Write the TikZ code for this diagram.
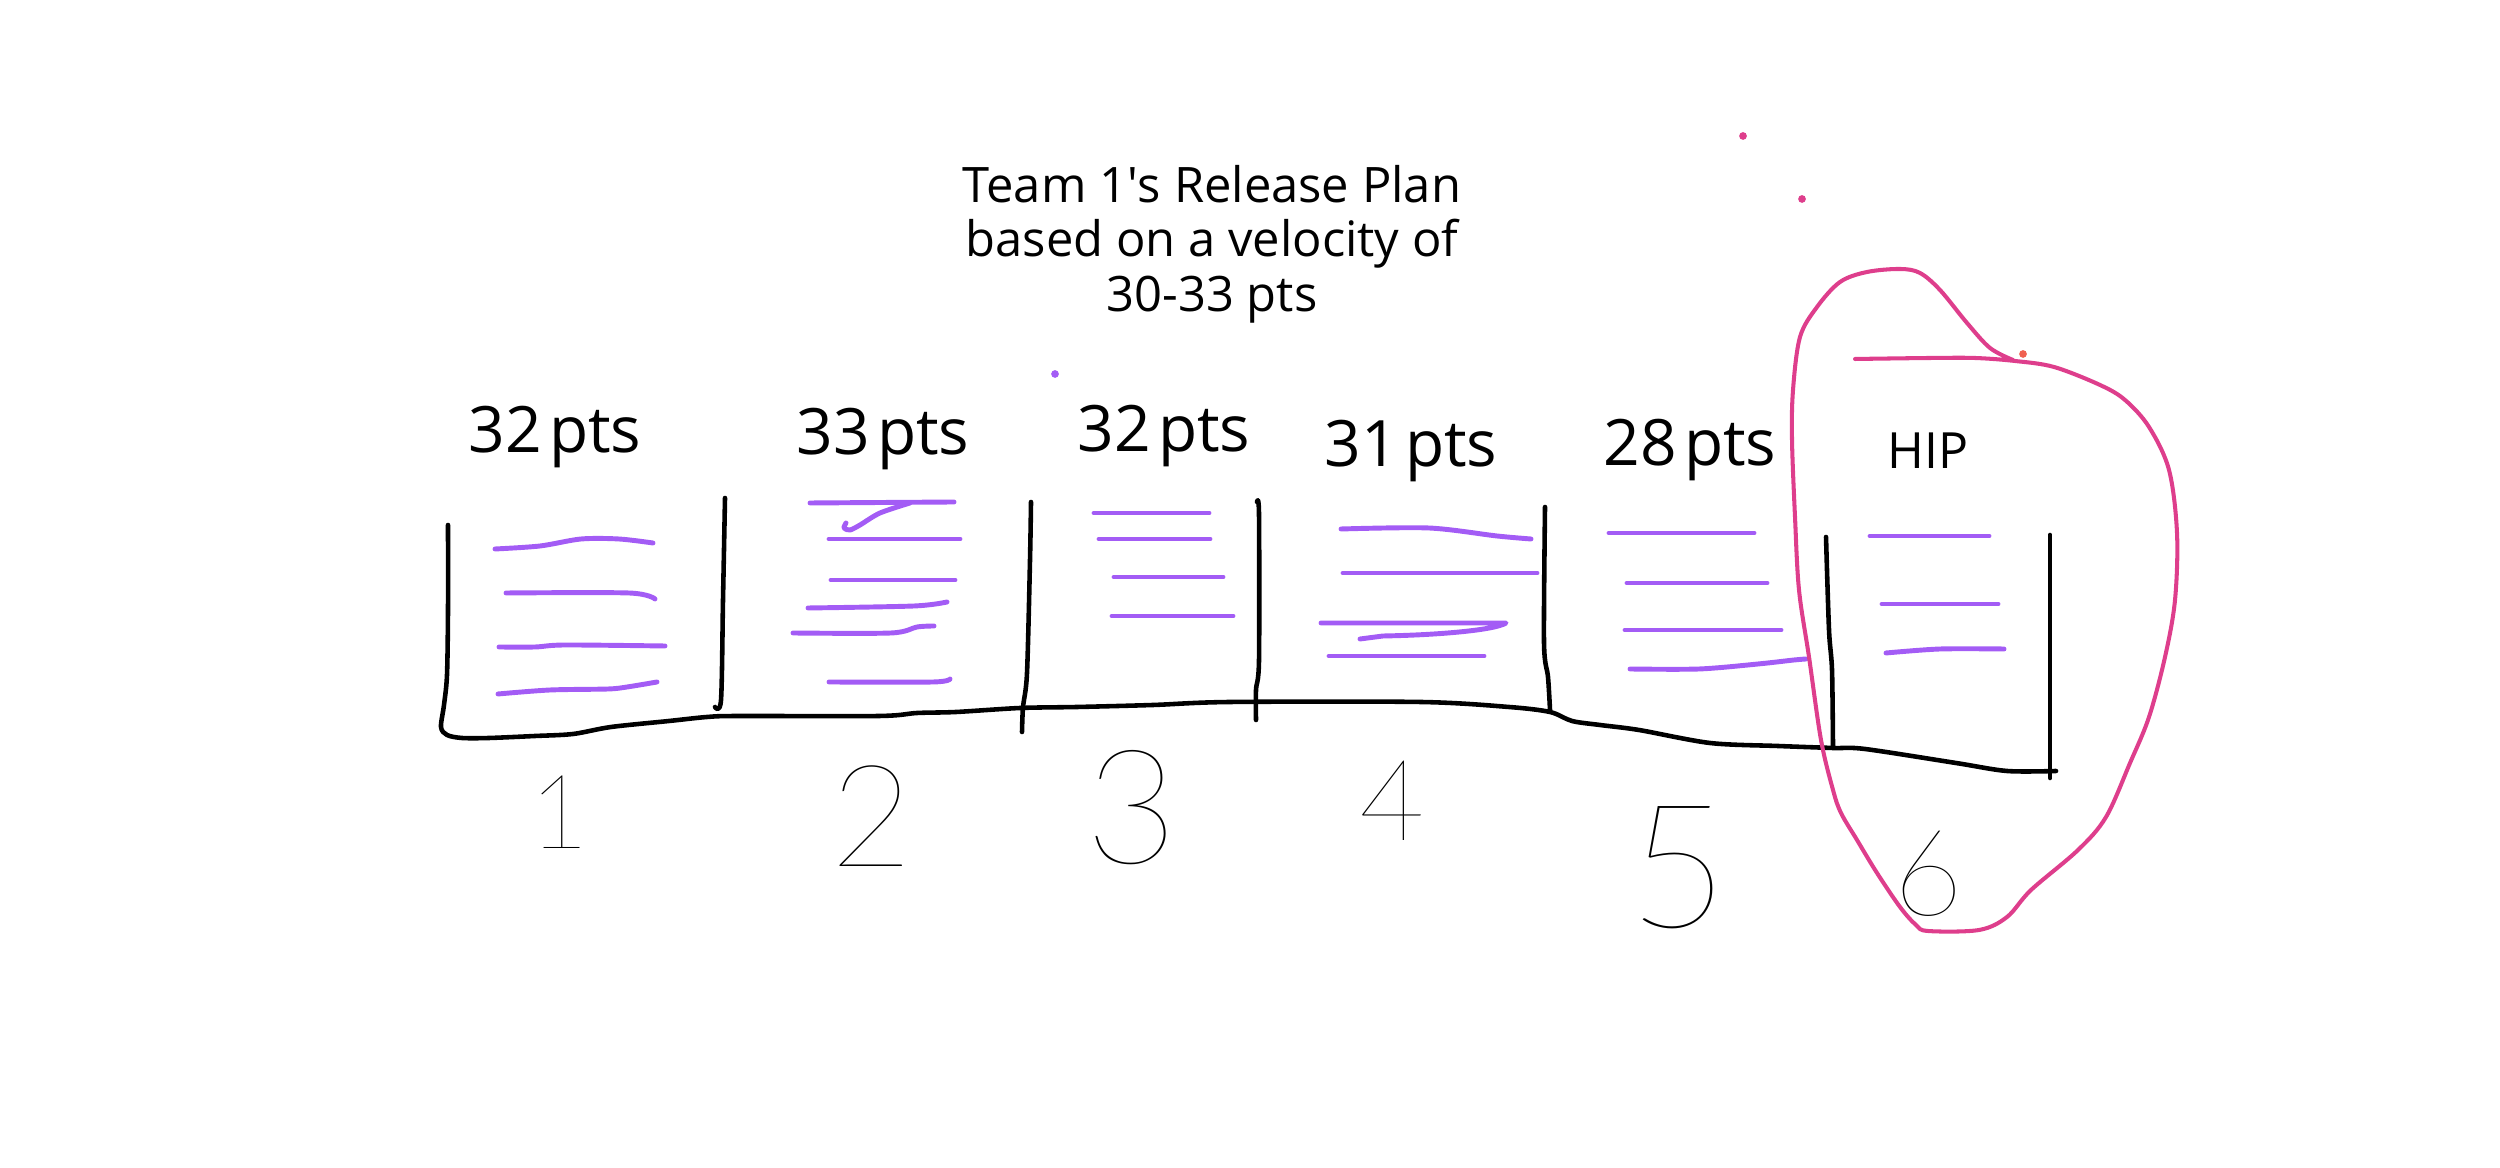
\documentclass[tikz,border=0pt]{standalone}
\usepackage{fontspec}
\setmainfont{Open Sans}
\newfontfamily\ptsfont{Open Sans}[WordSpace=0.45]
\IfFontExistsTF{Lato Thin}{\newfontfamily\handfont{Lato Thin}}{%
  \IfFontExistsTF{DejaVu Sans ExtraLight}{\newfontfamily\handfont{DejaVu Sans ExtraLight}}{%
    \newfontfamily\handfont{Open Sans}}}
\usepackage{tikz}
\usepackage{xcolor}
\definecolor{storypurple}{RGB}{163,92,245}
\definecolor{looppink}{RGB}{222,62,140}
\definecolor{speckred}{RGB}{240,96,80}

\begin{document}
\begin{tikzpicture}[
  x=0.01cm, y=-0.01cm,
  pen/.style={draw=black, line width=1.3pt, line cap=round, line join=round},
  story/.style={draw=storypurple, line width=1.4pt, line cap=round, line join=round},
  hipline/.style={draw=looppink, line width=1.15pt, line cap=round, line join=round},
  ttl/.style={font=\fontsize{13.9pt}{15.5pt}\selectfont, inner sep=0pt, anchor=base},
  pts/.style={font=\ptsfont\fontsize{18.2pt}{20pt}\selectfont, inner sep=0pt, anchor=base},
  num/.style={inner sep=0pt},
]
\useasboundingbox (0,0) rectangle (2500,1168);

%% --- Title ---
\node[ttl] (title1) at (1212,203) {Team 1\textquotesingle s Release Plan};
\node[ttl] (title2) at (1212,257) {based on a velocity of};
\node[ttl] (title3) at (1212,312) {30-33 pts};

%% --- Sprint totals ---
\foreach \n/\lbl/\cx/\by in {1/32 pts/555/453, 2/33 pts/883/455, 3/32 pts/1164/452,
                             4/31 pts/1411/467, 5/28 pts/1690/466}{
  \node[pts] (pts\n) at (\cx,\by) {\lbl};
}
\node[ttl, font=\fontsize{14.2pt}{16pt}\selectfont] (hip) at (1928,469) {HIP};

%% --- Sprint columns (black pen) ---
\draw[pen] plot[smooth, tension=0.5] coordinates {
  (448,525) (448,610) (447,675) (444,705) (441,727) (447,735) (462,738)
  (489,738) (535,736) (573,734) (611,727) (669,721) (707,717) (738,716)
  (879,716) (917,713) (956,712) (1020,708) (1077,707) (1153,705) (1230,702)
  (1421,702) (1509,707) (1550,712) (1572,721) (1600,725) (1639,730)
  (1710,743) (1778,746) (1833,748) (1865,749) (1956,763) (2007,771) (2056,771)};
\draw[pen] plot[smooth] coordinates {(725,498) (723,600) (721,700) (715,707)};
\draw[pen] plot[smooth] coordinates {(1031,502) (1030,560) (1027,673) (1023,707) (1022,732)};
\draw[pen] plot[smooth] coordinates {(1257,502) (1259,515) (1259,660) (1256,690) (1256,720)};
\draw[pen] plot[smooth] coordinates {(1545,507) (1544,643) (1548,677) (1550,710)};
\draw[pen] plot[smooth] coordinates {(1826,537) (1829,630) (1832,670) (1833,747)};
\draw[pen] (2050,535) -- (2050,778);

%% --- Stories (purple strokes) ---
% sprint 1
\draw[story] plot[smooth] coordinates {(495,549) (540,546) (581,539) (619,539) (653,543)};
\draw[story] plot[smooth] coordinates {(506,593) (629,593) (655,599)};
\draw[story] plot[smooth] coordinates {(499,647) (535,647) (565,645) (665,646)};
\draw[story] plot[smooth] coordinates {(498,694) (550,690) (608,689) (627,687) (657,682)};
% sprint 2
\draw[story] (810,503) -- (954,502);
\draw[story] plot[smooth] coordinates {(910,503) (880,513) (860,525) (850,530) (844,528) (846,523)};
\draw[story] plot[smooth] coordinates {(808,608) (914,606) (947,602)};
\draw[story] plot[smooth] coordinates {(793,633) (891,633) (917,627) (934,626)};
\draw[story] plot[smooth] coordinates {(829,682) (933,682) (950,679)};
% straight ones, sprints 2 to 6
\foreach \xa/\xb/\yy in {829/960/539, 831/955/580,
                         1094/1209/513, 1099/1210/539, 1114/1223/577, 1112/1233/616,
                         1343/1537/573, 1329/1484/656,
                         1609/1754/533, 1627/1767/583, 1625/1781/630,
                         1870/1989/536, 1882/1998/604}{
  \draw[story] (\xa,\yy) -- (\xb,\yy);
}
% sprint 4
\draw[story] plot[smooth] coordinates {(1341,529) (1429,528) (1497,536) (1531,539)};
\draw[story] (1321,623) -- (1506,623) .. controls (1495,630) and (1440,635) .. (1383,636) -- (1360,639);
% sprint 5
\draw[story] plot[smooth] coordinates {(1630,669) (1699,669) (1758,664) (1794,660) (1806,659)};
% sprint 6
\draw[story] plot[smooth] coordinates {(1886,653) (1940,649) (2004,649)};

%% --- Hardening sprint loop (pink) ---
\draw[hipline] plot[smooth, tension=0.55] coordinates {
  (1855,359) (1930,358) (1975,358) (2015,361) (2054,367) (2100,385) (2125,400)
  (2149,427) (2169,470) (2177,533) (2175,600) (2165,657) (2149,717) (2130,763)
  (2106,817) (2078,850) (2031,890) (2007,917) (1979,930) (1928,931) (1916,925)
  (1900,907) (1877,873) (1857,840) (1841,813) (1833,790) (1821,740) (1809,657)
  (1799,590) (1795,517) (1792,440) (1793,390) (1800,337) (1817,307) (1840,282)
  (1867,272) (1900,269) (1920,273) (1940,290) (1967,323) (1990,348) (2013,360)};

%% --- Stray pen specks ---
\fill[looppink] (1743,136) circle[radius=1.1pt];
\fill[looppink] (1802,199) circle[radius=1.1pt];
\fill[speckred] (2023,354) circle[radius=1.1pt];
\fill[storypurple] (1055,374) circle[radius=1.1pt];

%% --- Sprint numbers (handwritten) ---
\foreach \d/\cx/\cy/\h in {1/559/812/71, 2/872/816/98, 3/1132/808/110,
                           4/1392/801/78, 5/1679/868/119, 6/1928/874/83}{
  \pgfmathsetmacro\fs{0.413*\h}
  \node[num, font=\handfont\fontsize{\fs pt}{\fs pt}\selectfont] (sprint\d) at (\cx,\cy) {\d};
}

\end{tikzpicture}
\end{document}
